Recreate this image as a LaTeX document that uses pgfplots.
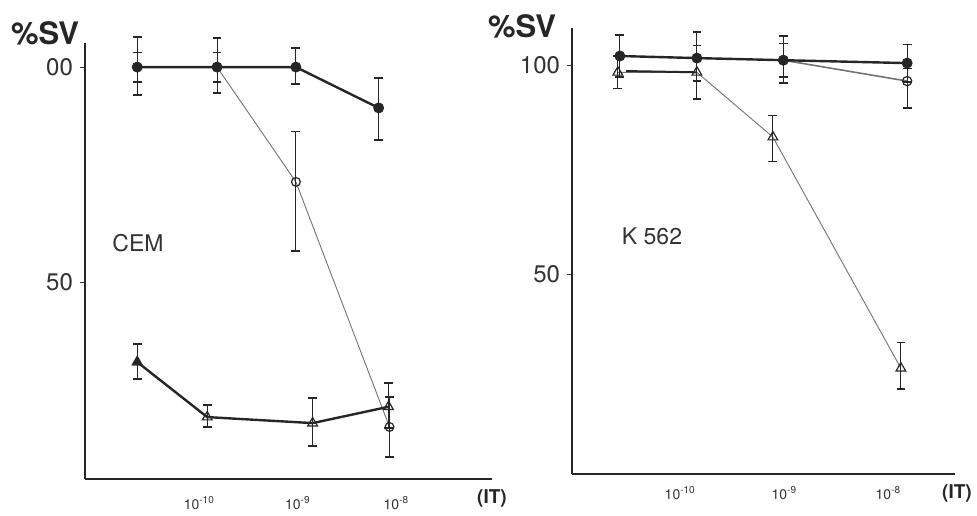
\documentclass[border=0pt]{standalone}
\usepackage{fontspec}
\setmainfont{TeX Gyre Heros}
\usepackage{pgfplots}
\pgfplotsset{compat=1.18}

\pgfplotsset{
  panel/.style={
    scale only axis, clip=false,
    axis lines*=left,
    axis line style={line width=0.9pt, black!85},
    xtick={-10,-9,-8},
    xticklabels={10\textsuperscript{-10},10\textsuperscript{-9},10\textsuperscript{-8}},
    x tick label style={font=\fontsize{7}{8}\selectfont, text=black!80},
    xtick style={draw=none},
    ytick={50,100},
    y tick label style={font=\fontsize{12}{13}\selectfont, text=black!80},
    ytick style={black!80, line width=0.5pt},
    major tick length=2.5pt,
    /pgf/number format/assume math mode=true,
    tick align=outside,
  },
  ebar/.style={
    error bars/.cd, y dir=both, y explicit,
    error bar style={line width=0.5pt, black!85},
    error mark options={rotate=90, mark size=2.2pt, line width=0.8pt, black!85},
  },
  thick series/.style={line width=1.2pt, black!85},
  thin series/.style={line width=0.45pt, black!55},
}

\begin{document}
\begin{tikzpicture}
\useasboundingbox (0,0) rectangle (488.5pt,257.5pt);

% ---------- CEM ----------
\begin{axis}[panel,
  at={(42.5pt,18pt)}, anchor=south west,
  width=203.5pt, height=218pt,
  xmin=-11.16, xmax=-7.03, ymin=4.2, ymax=105.6,
  yticklabels={50,00},
  x tick label style={yshift=-2.5pt},
]
% open circles, thin line
\addplot[thin series, mark=o, mark size=2.2pt,
  mark options={fill=white, black!85, line width=0.6pt}, ebar]
  table[x=x, y=y, y error plus=ep, y error minus=em] {
x      y     ep    em
-10.63 100   3.4   3.4
-9.82  100   3.4   3.4
-9.02  73.3  11.7  16.1
-8.07  16.3  7.0   7.0
};
% triangles, thick line
\addplot[thick series, mark=triangle, mark size=2.8pt,
  mark options={fill=white, black!85, line width=0.6pt}, ebar]
  table[x=x, y=y, y error plus=ep, y error minus=em] {
x      y     ep    em
-10.63 31.4  4.2   4.0
-9.92  18.6  2.8   2.3
-8.85  17.2  5.8   5.3
-8.08  21.0  5.5   5.0
};
\addplot[only marks, mark=triangle*, mark size=2.8pt, black!85]
  coordinates {(-10.63,31.4)};
% filled circles, thick line
\addplot[thick series, mark=*, mark size=2.1pt, ebar]
  table[x=x, y=y, y error plus=ep, y error minus=em] {
x      y     ep    em
-10.63 100   7.0   6.5
-9.82  100   6.7   6.0
-9.02  100   4.4   4.0
-8.18  90.5  6.9   7.5
};
\end{axis}

% ---------- K 562 ----------
\begin{axis}[panel,
  at={(286pt,20.5pt)}, anchor=south west,
  width=191.5pt, height=223pt,
  xmin=-11.04, xmax=-7.36, ymin=2.2, ymax=108.9,
  yticklabels={50,100},
  x tick label style={yshift=0pt},
]
% triangles, thin line
\addplot[thin series, mark=triangle, mark size=2.8pt,
  mark options={fill=white, black!85, line width=0.6pt}, ebar]
  table[x=x, y=y, y error plus=ep, y error minus=em] {
x      y     ep    em
-10.60 98.3  3.9   3.9
-9.84  98.3  6.4   6.4
-9.11  82.8  5.2   5.8
-7.88  27.5  6.2   5.0
};
\addplot[thick series, line width=1pt] coordinates {(-10.52,98.6) (-9.84,98.3)};
% open circles
\addplot[thin series, line width=0.8pt, mark=o, mark size=2.3pt,
  mark options={fill=white, black!85, line width=0.6pt}, ebar]
  table[x=x, y=y, y error plus=ep, y error minus=em] {
x      y     ep    em
-9.01  101.2 4.0   4.0
-7.82  96.2  3.0   6.5
};
% filled circles, thick line
\addplot[thick series, mark=*, mark size=2.1pt, ebar]
  table[x=x, y=y, y error plus=ep, y error minus=em] {
x      y     ep    em
-10.58 102.2 5.0   5.0
-9.84  101.7 6.3   5.5
-9.01  101.2 5.8   5.5
-7.82  100.5 4.5   4.5
};
\end{axis}

% ---------- text ----------
\node[font=\fontsize{15.5}{16}\selectfont\bfseries, black!85] at (22.5pt,241pt) {\%SV};
\node[font=\fontsize{15.5}{16}\selectfont\bfseries, black!85] at (261pt,244.5pt) {\%SV};
\node[font=\fontsize{11.5}{12}\selectfont, black!80] at (69pt,136pt) {CEM};
\node[font=\fontsize{11.5}{12}\selectfont, black!80] at (326pt,139.5pt) {K 562};
\node[font=\fontsize{9.5}{10}\selectfont\bfseries, black!85] at (246pt,8.5pt) {(IT)};
\node[font=\fontsize{9.5}{10}\selectfont\bfseries, black!85] at (478.5pt,11pt) {(IT)};
\end{tikzpicture}
\end{document}
